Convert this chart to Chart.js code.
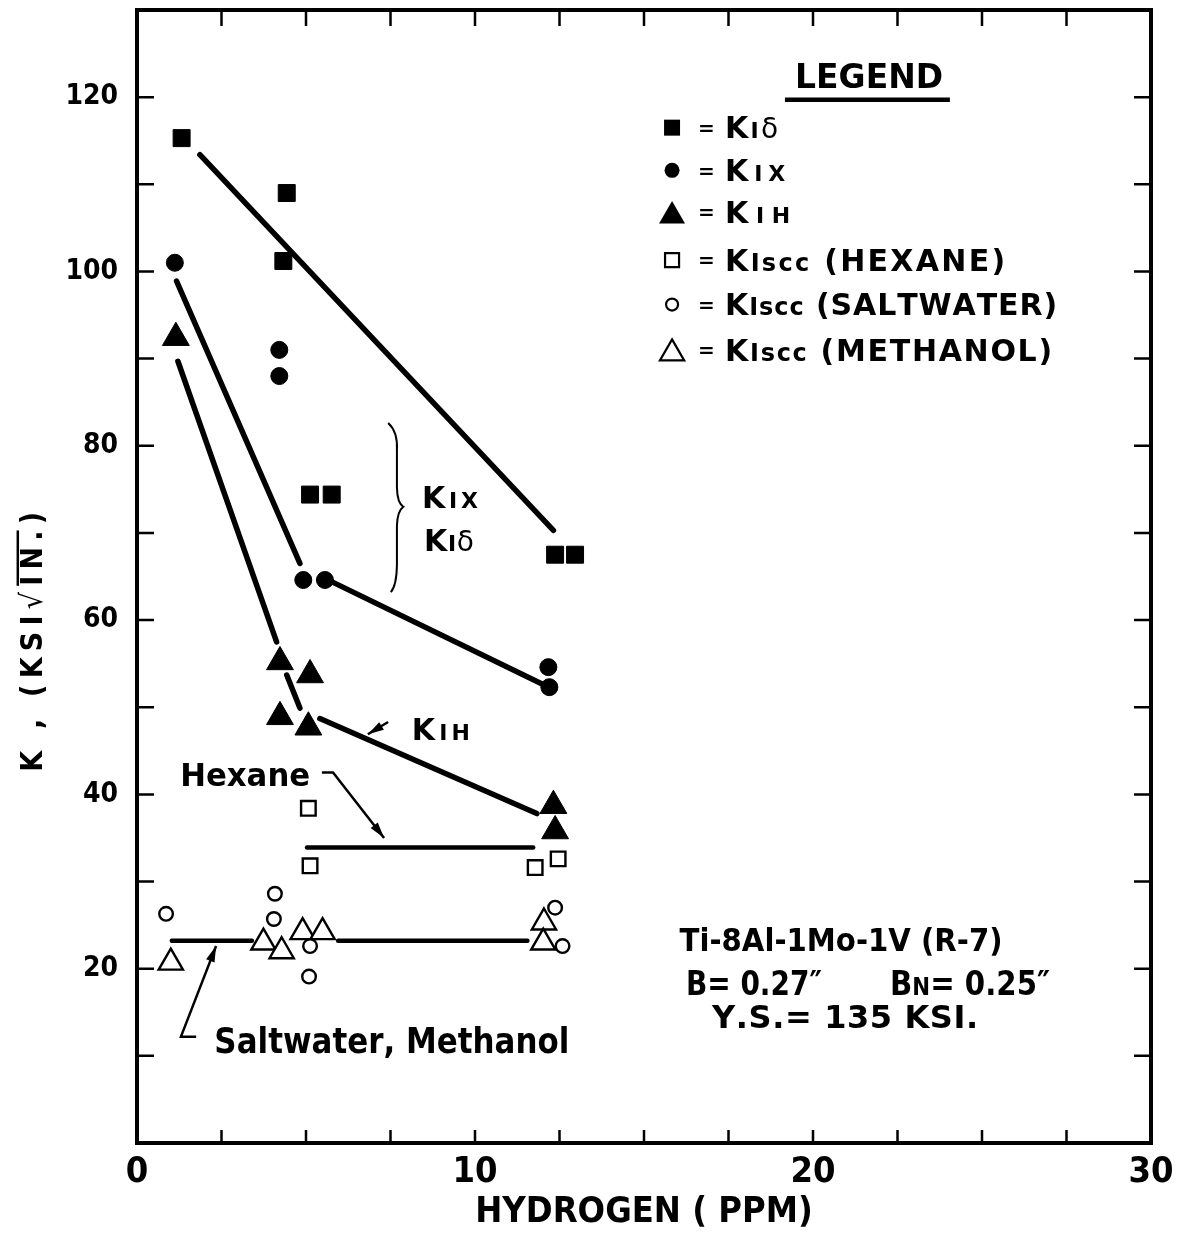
<!DOCTYPE html>
<html>
<head>
<meta charset="utf-8">
<script src="https://cdn.jsdelivr.net/npm/chart.js@4.4.1/dist/chart.umd.min.js"></script>
<style>
  html, body { margin: 0; padding: 0; background: #fff; }
  #wrap { width: 1189px; height: 1234px; }
</style>
</head>
<body>
<div id="wrap"><canvas id="chart" width="1189" height="1234"></canvas></div>
<script>
const FONT = '"Liberation Sans Narrow", "DejaVu Sans Condensed", "DejaVu Sans", sans-serif';
const NOTE_FONT = '"DejaVu Sans", "Liberation Sans", sans-serif';
const INK = '#000';

// axis ticks
const X_TICK_LABELS = [0, 10, 20, 30];
const Y_TICK_LABELS = [20, 40, 60, 80, 100, 120];

const SERIES_LABELS = ['KIδ', 'KIx', 'KIH', 'KIscc (HEXANE)', 'KIscc (SALTWATER)', 'KIscc (METHANOL)'];

// hydrogen (ppm) vs K (ksi sqrt in)
const kIdeltaX = [1.32, 4.43, 4.33, 5.12, 5.76, 12.37, 12.96];
const kIdeltaY = [115.3, 109.0, 101.2, 74.4, 74.4, 67.5, 67.5];

const kIxX = [1.12, 4.21, 4.21, 4.92, 5.56, 12.17, 12.20];
const kIxY = [101.0, 91.0, 88.0, 64.6, 64.6, 54.6, 52.3];

const kIHX = [1.15, 4.23, 5.12, 4.23, 5.07, 12.32, 12.37];
const kIHY = [92.4, 55.2, 53.7, 48.9, 47.7, 38.7, 35.8];

const hexaneX = [5.07, 5.12, 11.78, 12.46];
const hexaneY = [38.4, 31.8, 31.6, 32.6];

const saltX = [0.86, 4.08, 4.05, 5.12, 5.09, 12.37, 12.59];
const saltY = [26.3, 28.6, 25.7, 22.6, 19.1, 27.0, 22.6];

const methX = [1.00, 3.74, 4.28, 4.90, 5.49, 12.04, 12.02];
const methY = [20.7, 23.0, 22.0, 24.2, 24.2, 25.3, 23.0];

// hand drawn trend lines (null = break)
const kIdeltaFitX = [1.86, 12.32];
const kIdeltaFitY = [113.4, 70.3];
const kIxFitX = [1.17, 4.82, null, 5.71, 11.97];
const kIxFitY = [98.9, 66.5, null, 64.5, 52.7];
const kIHFitX = [1.21, 4.13, null, 4.43, 4.82, null, 5.41, 11.83];
const kIHFitY = [89.7, 57.5, null, 53.7, 49.9, null, 48.7, 37.8];
const hexaneFitX = [5.03, 11.72];
const hexaneFitY = [33.9, 33.9];
const saltFitX = [1.03, 3.40, null, 5.95, 11.55];
const saltFitY = [23.2, 23.2, null, 23.2, 23.2];

const pts = (xs, ys) => xs.map((x, i) => ({ x, y: ys[i] }));

function segments(xs, ys) {
    const out = [];
    let cur = [];
    xs.forEach((x, i) => {
        if (x === null) { out.push(cur); cur = []; }
        else cur.push({ x, y: ys[i] });
    });
    out.push(cur);
    return out;
}

function markerSet(i, xs, ys, style, radius, filled) {
    return {
        label: SERIES_LABELS[i], data: pts(xs, ys), pointStyle: style, pointRadius: radius,
        backgroundColor: filled ? INK : '#fff', borderColor: INK, borderWidth: filled ? 1 : 2.4
    };
}

function lineSets(xs, ys, width) {
    return segments(xs, ys).map(seg => ({
        data: seg, showLine: true, pointRadius: 0, borderColor: INK,
        borderWidth: width, borderCapStyle: 'round'
    }));
}

const datasets = [
    markerSet(0, kIdeltaX, kIdeltaY, 'rect', 12, true),
    markerSet(1, kIxX, kIxY, 'circle', 8.5, true),
    markerSet(2, kIHX, kIHY, 'triangle', 15.5, true),
    markerSet(3, hexaneX, hexaneY, 'rect', 10.3, false),
    markerSet(4, saltX, saltY, 'circle', 6.8, false),
    markerSet(5, methX, methY, 'triangle', 14, false),
    ...lineSets(kIdeltaFitX, kIdeltaFitY, 5.5),
    ...lineSets(kIxFitX, kIxFitY, 5.5),
    ...lineSets(kIHFitX, kIHFitY, 5.5),
    ...lineSets(hexaneFitX, hexaneFitY, 4.5),
    ...lineSets(saltFitX, saltFitY, 4.5)
];

// text made of runs of different sizes; cy is the cap centre
function drawParts(ctx, parts, x, cy, opt = {}) {
    const maxSize = Math.max(...parts.map(p => p[1]));
    const glyphs = [];
    parts.forEach(([t, size, weight]) => {
        ctx.font = `${weight || 'bold'} ${size}px ${opt.family || NOTE_FONT}`;
        for (const ch of t) glyphs.push({ ch, font: ctx.font, w: ctx.measureText(ch).width });
    });
    const natural = glyphs.reduce((s, g) => s + g.w, 0);
    const width = opt.width || natural;
    let sx = 1, ls = 0;
    if (natural > width) sx = width / natural;
    else if (glyphs.length > 1) ls = (width - natural) / (glyphs.length - 1);
    const left = opt.align === 'center' ? x - width / 2 : x;
    ctx.save();
    ctx.textAlign = 'left';
    ctx.textBaseline = 'alphabetic';
    ctx.translate(left, cy + maxSize * 0.36);
    ctx.scale(sx, 1);
    const pos = [];
    let cx = 0;
    glyphs.forEach(g => {
        ctx.font = g.font;
        ctx.fillText(g.ch, cx, 0);
        pos.push(cx);
        cx += g.w + ls / sx;
    });
    if (opt.overline) {
        const [a, b] = opt.overline;
        ctx.lineWidth = 2.5;
        ctx.beginPath();
        ctx.moveTo(pos[a], -maxSize * 0.8);
        ctx.lineTo(pos[b] + glyphs[b].w, -maxSize * 0.8);
        ctx.stroke();
    }
    ctx.restore();
}

function mark(ctx, style, filled, x, y, r) {
    ctx.beginPath();
    if (style === 'rect') ctx.rect(x - r, y - r, 2 * r, 2 * r);
    else if (style === 'circle') ctx.arc(x, y, r, 0, Math.PI * 2);
    else {
        ctx.moveTo(x, y - r);
        ctx.lineTo(x + r * 0.866, y + r / 2);
        ctx.lineTo(x - r * 0.866, y + r / 2);
        ctx.closePath();
    }
    if (filled) ctx.fill();
    else { ctx.lineWidth = 2.2; ctx.stroke(); }
}

function arrowLine(ctx, points) {
    ctx.lineWidth = 2.5;
    ctx.beginPath();
    points.forEach(([px, py], i) => i ? ctx.lineTo(px, py) : ctx.moveTo(px, py));
    ctx.stroke();
    const [x1, y1] = points[points.length - 2];
    const [x2, y2] = points[points.length - 1];
    const ang = Math.atan2(y2 - y1, x2 - x1);
    ctx.beginPath();
    ctx.moveTo(x2, y2);
    ctx.lineTo(x2 - 16 * Math.cos(ang) + 4.5 * Math.sin(ang), y2 - 16 * Math.sin(ang) - 4.5 * Math.cos(ang));
    ctx.lineTo(x2 - 16 * Math.cos(ang) - 4.5 * Math.sin(ang), y2 - 16 * Math.sin(ang) + 4.5 * Math.cos(ang));
    ctx.closePath();
    ctx.fill();
}

const legendParts = [
    [['K', 30], ['I', 22], ['δ', 28, 'normal']],
    [['K', 30], ['IX', 22]],
    [['K', 30], ['IH', 22]],
    [['K', 30], ['Iscc', 24], [' (HEXANE)', 30]],
    [['K', 30], ['Iscc', 24], [' (SALTWATER)', 30]],
    [['K', 30], ['Iscc', 24], [' (METHANOL)', 30]]
];
const legendRows = [116.5, 111.6, 106.8, 101.3, 96.2, 91.0];
const legendWidths = [53, 60, 65, 280, 332, 327];
const legendSizes = [8, 7.5, 15, 7, 6, 14];

const decor = {
    id: 'decor',
    afterDraw(chart) {
        const { ctx, chartArea: a, scales: { x, y } } = chart;
        const X = v => x.getPixelForValue(v);
        const Y = v => y.getPixelForValue(v);
        ctx.save();
        ctx.strokeStyle = INK;
        ctx.fillStyle = INK;

        // frame with inward ticks
        ctx.lineWidth = 4;
        ctx.strokeRect(a.left, a.top, a.right - a.left, a.bottom - a.top);
        ctx.lineWidth = 2.5;
        ctx.beginPath();
        y.ticks.forEach(t => {
            const p = Y(t.value);
            ctx.moveTo(a.left, p); ctx.lineTo(a.left + 17, p);
            ctx.moveTo(a.right, p); ctx.lineTo(a.right - 17, p);
        });
        x.ticks.forEach(t => {
            const p = X(t.value);
            ctx.moveTo(p, a.top); ctx.lineTo(p, a.top + 16);
            ctx.moveTo(p, a.bottom); ctx.lineTo(p, a.bottom - 13);
        });
        ctx.stroke();

        // y axis title
        ctx.save();
        ctx.translate(31, Y(57.5));
        ctx.rotate(-Math.PI / 2);
        drawParts(ctx, [['K , (KSI', 30], ['√', 30, 'normal'], ['IN.)', 30]], 0, 0,
            { align: 'center', width: 260, overline: [9, 11], family: FONT });
        ctx.restore();

        // legend
        drawParts(ctx, [['LEGEND', 34]], X(21.66), Y(122.5), { align: 'center', width: 148 });
        ctx.lineWidth = 4.5;
        ctx.beginPath();
        ctx.moveTo(X(19.17), Y(119.7)); ctx.lineTo(X(24.05), Y(119.7));
        ctx.stroke();
        chart.data.datasets.slice(0, 6).forEach((ds, i) => {
            const cy = Y(legendRows[i]);
            const filled = ds.backgroundColor === INK;
            const off = ds.pointStyle === 'triangle' ? legendSizes[i] / 4 : 0;
            mark(ctx, ds.pointStyle, filled, X(15.83), cy + off, legendSizes[i]);
            drawParts(ctx, [['=', 20]], X(16.6), cy);
            drawParts(ctx, legendParts[i], X(17.40), cy, { width: legendWidths[i] });
        });

        // curve labels
        drawParts(ctx, [['K', 30], ['IX', 22]], X(9.26), Y(74.1), { align: 'center', width: 56 });
        drawParts(ctx, [['K', 30], ['I', 22], ['δ', 28, 'normal']], X(9.23), Y(69.2), { align: 'center', width: 50 });
        ctx.lineWidth = 2;
        ctx.beginPath();
        ctx.moveTo(X(7.43), Y(82.6));
        ctx.quadraticCurveTo(X(7.72), Y(81.6), X(7.69), Y(79.5));
        ctx.lineTo(X(7.69), Y(75.2));
        ctx.quadraticCurveTo(X(7.70), Y(73.4), X(7.88), Y(73.0));
        ctx.quadraticCurveTo(X(7.70), Y(72.5), X(7.69), Y(70.8));
        ctx.lineTo(X(7.69), Y(66.3));
        ctx.quadraticCurveTo(X(7.68), Y(64.0), X(7.51), Y(63.2));
        ctx.stroke();

        drawParts(ctx, [['K', 30], ['IH', 22]], X(8.99), Y(47.5), { align: 'center', width: 58 });
        arrowLine(ctx, [[X(7.43), Y(48.3)], [X(6.83), Y(46.9)]]);

        drawParts(ctx, [['Hexane', 32]], X(3.20), Y(42.3), { align: 'center', width: 130 });
        arrowLine(ctx, [[X(5.47), Y(42.5)], [X(5.80), Y(42.5)], [X(7.31), Y(35.0)]]);

        drawParts(ctx, [['Saltwater, Methanol', 35]], X(7.54), Y(11.8), { align: 'center', width: 355 });
        arrowLine(ctx, [[X(1.75), Y(12.2)], [X(1.30), Y(12.2)], [X(2.34), Y(22.6)]]);

        // specimen note
        drawParts(ctx, [['Ti-8Al-1Mo-1V (R-7)', 32]], X(20.83), Y(23.3), { align: 'center', width: 323 });
        drawParts(ctx, [['B= 0.27″', 33]], X(16.24), Y(18.4), { width: 136 });
        drawParts(ctx, [['B', 33], ['N', 24], ['= 0.25″', 33]], X(22.28), Y(18.4), { width: 160 });
        drawParts(ctx, [['Y.S.= 135 KSI.', 32]], X(20.95), Y(14.5), { align: 'center', width: 266 });

        ctx.restore();
    }
};

new Chart(document.getElementById('chart'), {
    type: 'scatter',
    data: { datasets },
    options: {
        responsive: false,
        animation: false,
        devicePixelRatio: 1,
        // no automatic padding for the big markers: the frame sits 10px from the top
        layout: { autoPadding: false, padding: { left: 0, top: 10, right: 38, bottom: 0 } },
        plugins: { legend: { display: false }, tooltip: { enabled: false } },
        scales: {
            x: {
                type: 'linear', min: 0, max: 30,
                afterFit: s => { s.height = 91; },
                grid: { display: false, drawTicks: false },
                border: { display: false },
                ticks: {
                    stepSize: 2.5, autoSkip: false, maxRotation: 0, padding: 8, color: INK,
                    font: { family: FONT, weight: 'bold', size: 36 },
                    callback: v => X_TICK_LABELS.includes(v) ? String(v) : ''
                },
                title: {
                    display: true, text: 'HYDROGEN ( PPM)', color: INK,
                    font: { family: FONT, weight: 'bold', size: 36, lineHeight: 1 },
                    padding: { top: 0, bottom: 3 }
                }
            },
            y: {
                type: 'linear', min: 0, max: 130,
                afterFit: s => { s.width = 137; },
                // tick marks are drawn inward by the decor plugin; tickLength only spaces the labels
                grid: { display: false, drawTicks: true, tickLength: 19 },
                border: { display: false },
                ticks: {
                    stepSize: 10, autoSkip: false, padding: 0, color: INK,
                    font: { family: FONT, weight: 'bold', size: 28, lineHeight: 0.6 },
                    callback: v => Y_TICK_LABELS.includes(v) ? String(v) : ''
                }
            }
        }
    },
    plugins: [decor]
});
</script>
</body>
</html>
